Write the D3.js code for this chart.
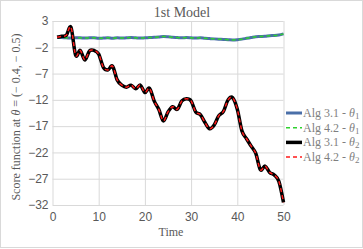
<!DOCTYPE html>
<html>
<head>
<meta charset="utf-8">
<script src="https://cdn.jsdelivr.net/npm/d3@7"></script>
<style>
  html, body { margin: 0; padding: 0; background: #fff; }
  svg { display: block; }
</style>
</head>
<body>
<div id="chart"></div>
<script>
// time steps 1..50
const times = [1,2,3,4,5,6,7,8,9,10,11,12,13,14,15,16,17,18,19,20,21,22,23,24,25,26,27,28,29,30,31,32,33,34,35,36,37,38,39,40,41,42,43,44,45,46,47,48,49,50];

const alg31Theta1 = [-0.1,-0.15,-0.2,-0.25,-0.2,-0.2,-0.25,-0.2,-0.2,-0.3,
  -0.25,-0.2,-0.3,-0.2,-0.25,-0.2,-0.15,-0.2,-0.25,-0.2,
  -0.15,-0.1,-0.05,0.05,0.0,-0.1,-0.15,-0.2,-0.15,-0.2,
  -0.25,-0.2,-0.3,-0.35,-0.4,-0.45,-0.5,-0.55,-0.6,-0.55,
  -0.45,-0.3,-0.15,0.0,0.05,0.1,0.2,0.25,0.35,0.55];

const alg42Theta1 = [-0.1,-0.15,-0.2,-0.25,-0.2,-0.2,-0.25,-0.2,-0.2,-0.3,
  -0.25,-0.2,-0.3,-0.2,-0.25,-0.2,-0.15,-0.2,-0.25,-0.2,
  -0.15,-0.1,-0.05,0.05,0.0,-0.1,-0.15,-0.2,-0.15,-0.2,
  -0.25,-0.2,-0.3,-0.35,-0.4,-0.45,-0.5,-0.55,-0.6,-0.55,
  -0.45,-0.3,-0.15,0.0,0.05,0.1,0.2,0.25,0.35,0.55];

const alg31Theta2 = [-0.1,0.1,0.3,1.8,-3.5,-2.6,-4.4,-2.7,-2.6,-3.3,
  -5.8,-6.3,-5.6,-8.2,-9.2,-9.6,-9.2,-9.9,-9.2,-10.6,
  -9.8,-12.2,-13.8,-16.0,-14.3,-13.3,-13.8,-12.2,-11.8,-12.2,
  -14.3,-14.8,-16.3,-17.5,-16.8,-15.0,-14.2,-12.0,-11.6,-13.8,
  -17.9,-19.4,-20.8,-22.2,-25.3,-24.6,-25.8,-26.3,-27.5,-31.5];

const alg42Theta2 = [-0.1,0.1,0.3,1.8,-3.5,-2.6,-4.4,-2.7,-2.6,-3.3,
  -5.8,-6.3,-5.6,-8.2,-9.2,-9.6,-9.2,-9.9,-9.2,-10.6,
  -9.8,-12.2,-13.8,-16.0,-14.3,-13.3,-13.8,-12.2,-11.8,-12.2,
  -14.3,-14.8,-16.3,-17.5,-16.8,-15.0,-14.2,-12.0,-11.6,-13.8,
  -17.9,-19.4,-20.8,-22.2,-25.3,-24.6,-25.8,-26.3,-27.5,-31.5];

const xTicks = [0,10,20,30,40,50];
const yTicks = [3,-2,-7,-12,-17,-22,-27,-32];

const seriesNames = ['Alg 3.1 - ', 'Alg 4.2 - ', 'Alg 3.1 - ', 'Alg 4.2 - '];
const seriesSubs = ['1', '1', '2', '2'];

const W = 363, H = 249;
const margin = { top: 21, right: 79.5, bottom: 44, left: 52.5 };
const width = W - margin.left - margin.right;
const height = H - margin.top - margin.bottom;

const svg = d3.select('#chart').append('svg')
  .attr('width', W)
  .attr('height', H);

// chart area border
svg.append('rect')
  .attr('x', 0.5).attr('y', 0.5)
  .attr('width', W - 1).attr('height', H - 2)
  .attr('fill', '#fff')
  .attr('stroke', '#d9d9d9');

const g = svg.append('g').attr('transform', `translate(${margin.left},${margin.top})`);

const x = d3.scaleLinear().domain([0, 50]).range([0, width]);
const y = d3.scaleLinear().domain([-32, 3]).range([height, 0]);

// gridlines
g.append('g')
  .call(d3.axisLeft(y).tickValues(yTicks).tickSize(-width).tickFormat(''))
  .call(s => s.select('.domain').remove())
  .selectAll('line').attr('stroke', '#d9d9d9').attr('stroke-width', 1);

g.append('g')
  .attr('transform', `translate(0,${height})`)
  .call(d3.axisBottom(x).tickValues(xTicks).tickSize(-height).tickFormat(''))
  .call(s => s.select('.domain').remove())
  .selectAll('line').attr('stroke', '#d9d9d9').attr('stroke-width', 1);

// tick labels
g.append('g')
  .call(d3.axisLeft(y).tickValues(yTicks).tickSize(0).tickPadding(4))
  .call(s => s.select('.domain').remove())
  .selectAll('text')
  .attr('font-family', 'Liberation Sans, Arial, sans-serif')
  .attr('font-size', '12px')
  .attr('fill', '#595959');

g.append('g')
  .attr('transform', `translate(0,${height})`)
  .call(d3.axisBottom(x).tickValues(xTicks).tickSize(0).tickPadding(7))
  .call(s => s.select('.domain').remove())
  .selectAll('text')
  .attr('font-family', 'Liberation Sans, Arial, sans-serif')
  .attr('font-size', '12px')
  .attr('fill', '#595959');

// lines
const line = d3.line()
  .x((d, i) => x(times[i]))
  .y(d => y(d))
  .curve(d3.curveCatmullRom.alpha(0));

const styles = [
  { data: alg31Theta1, color: '#4a6fa8', width: 3, dash: null },
  { data: alg42Theta1, color: '#2fd12f', width: 1.5, dash: '4,3' },
  { data: alg31Theta2, color: '#000000', width: 3.5, dash: null },
  { data: alg42Theta2, color: '#ff1a1a', width: 1.5, dash: '4,3' }
];

styles.forEach(s => {
  g.append('path')
    .datum(s.data)
    .attr('d', line)
    .attr('fill', 'none')
    .attr('stroke', s.color)
    .attr('stroke-width', s.width)
    .attr('stroke-dasharray', s.dash)
    .attr('stroke-linejoin', 'round');
});

// title
svg.append('text')
  .attr('x', 182)
  .attr('y', 17)
  .attr('text-anchor', 'middle')
  .attr('font-family', 'Liberation Serif, serif')
  .attr('font-size', '14px')
  .attr('fill', '#595959')
  .text('1st Model');

// x axis title
svg.append('text')
  .attr('x', 171)
  .attr('y', 236)
  .attr('text-anchor', 'middle')
  .attr('font-family', 'Liberation Serif, serif')
  .attr('font-size', '12px')
  .attr('fill', '#595959')
  .text('Time');

// y axis title
const yTitle = svg.append('text')
  .attr('transform', 'translate(20,117) rotate(-90)')
  .attr('text-anchor', 'middle')
  .attr('font-family', 'Liberation Serif, serif')
  .attr('font-size', '12px')
  .attr('fill', '#595959');
yTitle.append('tspan').text('Score function at  ');
yTitle.append('tspan').attr('font-style', 'italic').text('θ');
yTitle.append('tspan').text(' = (− 0.4, − 0.5)');

// legend
const legend = svg.append('g').attr('transform', 'translate(286,113)');
styles.forEach((s, i) => {
  const row = legend.append('g').attr('transform', `translate(0,${i * 14.7})`);
  row.append('line')
    .attr('x1', 0).attr('x2', 16)
    .attr('y1', 0).attr('y2', 0)
    .attr('stroke', s.color)
    .attr('stroke-width', s.width)
    .attr('stroke-dasharray', s.dash);
  const t = row.append('text')
    .attr('x', 17)
    .attr('y', 4)
    .attr('font-family', 'Liberation Serif, serif')
    .attr('font-size', '12px')
    .attr('fill', '#7f7f7f');
  t.append('tspan').text(seriesNames[i]);
  t.append('tspan').attr('font-style', 'italic').text('θ');
  t.append('tspan').attr('font-size', '9px').attr('dy', 2).text(seriesSubs[i]);
});
</script>
</body>
</html>
